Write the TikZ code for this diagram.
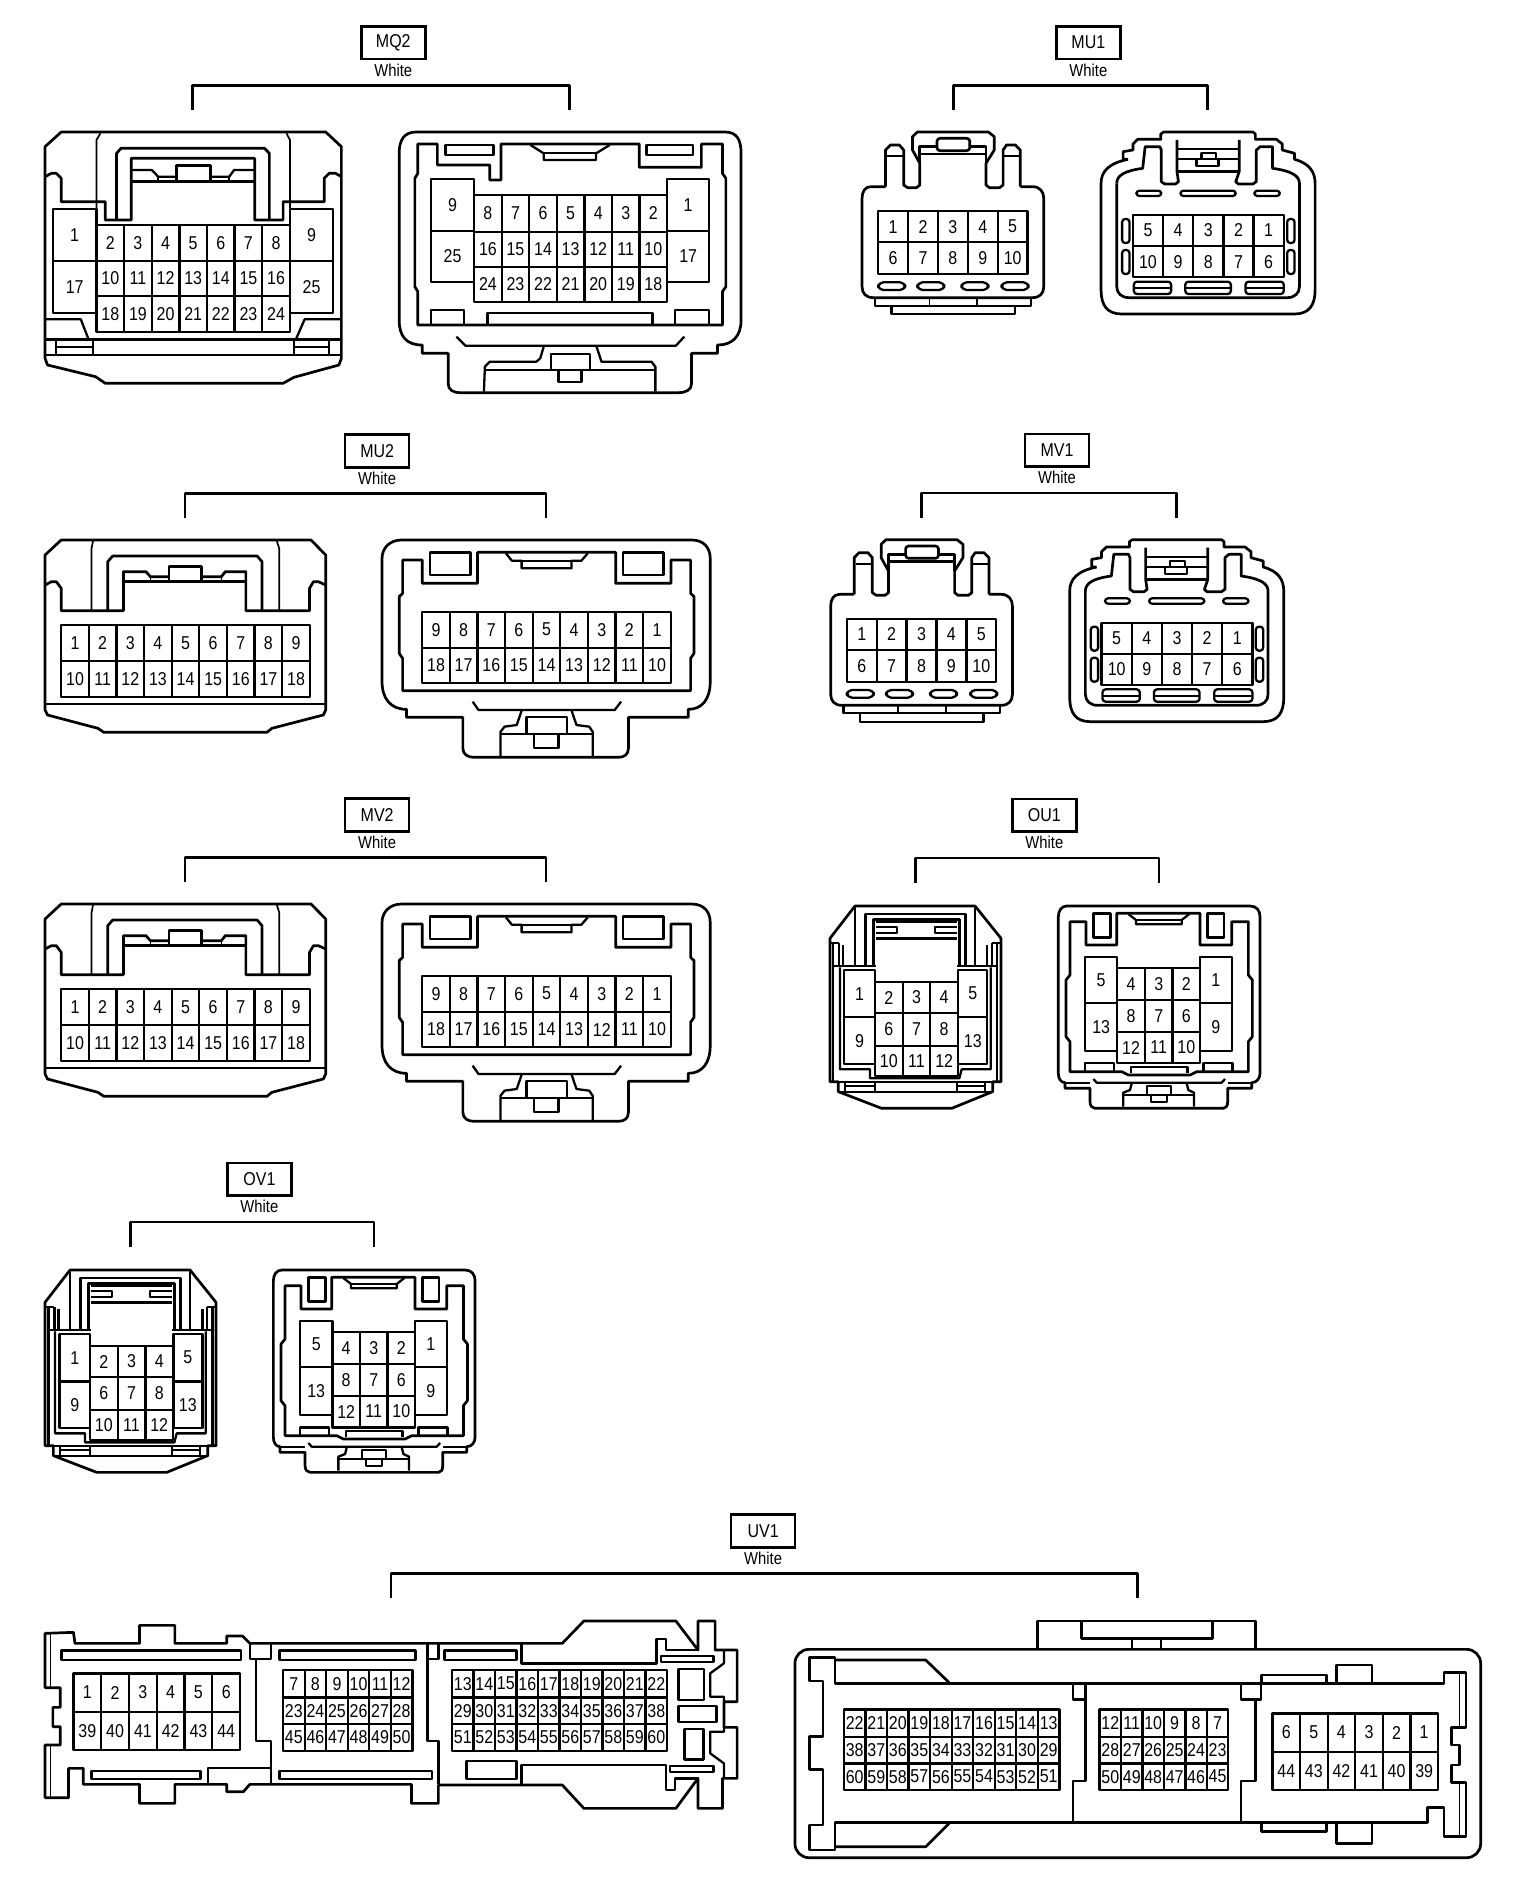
\documentclass[tikz,border=0pt]{standalone}
\usepackage{fontspec}
\setmainfont[FakeStretch=.86]{Liberation Sans}

\tikzset{
	hvy/.style={line width=1.35pt, line join=round},
	mid/.style={line width=1.15pt, line join=round},
	thn/.style={line width=.85pt, line join=round},
	pinlab/.style={font=\fontsize{9.3}{10}\selectfont, inner sep=0pt},
	tagbox/.style={draw, line width=1.3pt, minimum width=32pt, minimum height=16.3pt, inner sep=0pt, font=\fontsize{9.3}{10}\selectfont},
	tagcolor/.style={inner sep=0pt, font=\fontsize{8.6}{10}\selectfont},
}

\newcommand{\pinrow}[6]{
	\foreach \lab [count=\k from 0] in {#6} {
		\draw[mid] ({#2+\k*#4},#3) rectangle ++(#4,#5);
		\node[pinlab] (#1\lab) at ({#2+(\k+.5)*#4},{#3+.5*#5}) {\lab};
	}
}
\newcommand{\tagblock}[5]{
	\node[tagbox] (#1tag) at (#2,#3) {#1};
	\node[tagcolor] (#1col) at (#2,#3+82) {White};
	\coordinate (#1L) at (#4,#3+202);
	\coordinate (#1R) at (#5,#3+202);
	\draw[hvy] (#1L) -- ++(0,-74) -| (#1R);
}

\newcommand{\muonepair}{
	\draw[hvy] (240,560) -- (210,560) .. controls (198,560) and (192,575) .. (192,595) -- (192,860) .. controls (192,880) and (200,893) .. (215,893) -- (540,893) .. controls (555,893) and (563,880) .. (563,860) -- (563,595) .. controls (563,575) and (555,560) .. (540,560) -- (515,560);
	\draw[hvy] (240,560) -- (240,450) -- (250,435) -- (268,435) -- (277,450) -- (277,555) -- (285,563) -- (303,563) -- (310,555) -- (310,490) -- (295,450) -- (295,410) -- (305,396) -- (450,396) -- (462,410) -- (462,450) -- (445,490) -- (445,555) -- (452,563) -- (473,563) -- (480,555) -- (480,450) -- (487,435) -- (505,435) -- (515,450) -- (515,560);
	\draw[thn] (243,468) -- (277,468);
	\draw[thn] (480,468) -- (513,468);
	\draw[hvy] (310,490) -- (310,440) -- (345,440);
	\draw[hvy] (412,440) -- (445,440) -- (445,490);
	\draw[hvy] (310,462) -- (445,462);
	\draw[hvy, rounded corners=1.5pt] (345,415) rectangle (412,452);
	\pinrow{a}{225}{633}{61}{94}{1,2,3,4,5}
	\pinrow{a}{225}{727}{61}{95}{6,7,8,9,10}
	\foreach \sx in {225,305,395,477}
		\draw[mid, rounded corners=2.5pt] (\sx,847) rectangle ++(55,23);
	\draw[mid] (218,893) -- (218,917) -- (537,917) -- (537,893);
	\draw[thn] (330,893) -- (330,917);
	\draw[thn] (427,893) -- (427,917);
	\draw[mid] (252,917) -- (252,942) -- (504,942) -- (504,917);
	\draw[hvy] (735,478) -- (725,478) -- (725,455) -- (745,450) -- (745,432) -- (755,418) -- (802,418) -- (802,402) -- (808,396) -- (990,396) -- (995,402) -- (995,418) -- (1038,418) -- (1050,432) -- (1050,450) -- (1075,460) -- (1075,478) .. controls (1105,490) and (1117,515) .. (1117,550) -- (1117,870) .. controls (1117,915) and (1105,942) .. (1075,942) -- (722,942) .. controls (692,942) and (680,915) .. (680,870) -- (680,550) .. controls (680,515) and (695,490) .. (735,478);
	\draw[hvy] (712,550) .. controls (712,525) and (730,512) .. (765,505) -- (770,440) -- (800,440) -- (803,450) -- (803,545) -- (810,552) -- (832,552) -- (838,545) -- (835,515) -- (835,420);
	\draw[hvy] (962,420) -- (962,515) -- (955,545) -- (960,552) -- (990,552) -- (997,545) -- (997,450) -- (1005,440) -- (1030,440) -- (1030,505) .. controls (1065,512) and (1085,525) .. (1085,550) -- (1085,860) .. controls (1085,880) and (1075,893) .. (1060,893) -- (737,893) .. controls (722,893) and (712,880) .. (712,860) -- (712,550);
	\draw[mid] (835,448) -- (962,448);
	\draw[mid] (835,478) -- (962,478);
	\draw[hvy] (835,515) -- (962,515);
	\draw[mid] (885,478) -- (885,460) -- (915,460) -- (915,478);
	\draw[mid] (875,478) -- (875,498) -- (920,498) -- (920,478);
	\draw[mid, rounded corners=1.5pt] (752,572) rectangle (803,588);
	\draw[mid, rounded corners=1.5pt] (842,572) rectangle (955,588);
	\draw[mid, rounded corners=1.5pt] (993,572) rectangle (1045,588);
	\pinrow{b}{745}{645}{61.6}{93}{5,4,3,2,1}
	\pinrow{b}{745}{738}{61.6}{94}{10,9,8,7,6}
	\foreach \sx in {723,1060}
		\foreach \sy in {657,750}
			\draw[mid, rounded corners=1.5pt] (\sx,\sy) rectangle ++(15,72);
	\foreach \sx/\sw in {747/76,852/93,975/78} {
		\draw[mid, rounded corners=1.5pt] (\sx,845) rectangle ++(\sw,37);
		\draw[mid] (\sx,864) -- ++(\sw,0);
	}
}

\newcommand{\mutwopair}{
	\draw[hvy] (92,405) -- (125,360) -- (635,360) -- (665,405) -- (665,870) -- (660,885) -- (555,925) -- (545,937) -- (212,937) -- (200,925) -- (97,885) -- (92,870) -- cycle;
	\draw[thn] (187,570) -- (187,385) -- (190,362);
	\draw[thn] (570,570) -- (570,385) -- (565,362);
	\draw[hvy] (220,570) -- (220,425) -- (230,408) -- (525,408) -- (535,425) -- (535,570);
	\draw[hvy] (92,495) -- (105,485) -- (115,485) -- (125,505) -- (125,572) -- (252,572) -- (252,455) -- (298,455) -- (307,470) -- (345,470);
	\draw[hvy] (665,495) -- (650,485) -- (640,485) -- (632,505) -- (632,572) -- (502,572) -- (502,455) -- (460,455) -- (452,470) -- (412,470);
	\draw[hvy] (345,440) rectangle (412,485);
	\draw[hvy] (252,485) -- (502,485);
	\draw[thn] (307,470) -- (307,485);
	\draw[thn] (452,470) -- (452,485);
	\pinrow{a}{125}{616}{56.4}{107}{1,2,3,4,5,6,7,8,9}
	\pinrow{a}{125}{723}{56.4}{107}{10,11,12,13,14,15,16,17,18}
	\draw[hvy] (92,852) -- (665,852);
	\draw[hvy] (820,360) -- (1412,360) .. controls (1438,360) and (1450,385) .. (1450,415) -- (1450,785) .. controls (1450,835) and (1435,868) .. (1405,868) -- (1405,892) -- (1283,892) -- (1283,985) .. controls (1283,1003) and (1275,1012) .. (1262,1012) -- (968,1012) .. controls (955,1012) and (945,1003) .. (945,985) -- (945,892) -- (830,892) -- (830,868) .. controls (797,868) and (780,835) .. (780,785) -- (780,415) .. controls (780,385) and (795,360) .. (820,360) -- cycle;
	\draw[hvy] (822,420) -- (862,420) -- (862,490) -- (975,490) -- (975,397) -- (1257,397) -- (1257,490) -- (1370,490) -- (1370,420) -- (1410,420) -- (1410,520) -- (1417,530) -- (1417,700) -- (1410,715) -- (1410,812) -- (822,812) -- (822,715) -- (815,700) -- (815,530) -- (822,520) -- cycle;
	\draw[hvy] (878,397) rectangle (960,465);
	\draw[hvy] (1272,397) rectangle (1355,465);
	\draw[mid] (1033,400) -- (1045,422) -- (1065,422) -- (1065,445) -- (1167,445) -- (1167,422) -- (1187,422) -- (1200,400);
	\draw[mid] (1065,422) -- (1167,422);
	\pinrow{b}{862}{575}{56.4}{108}{9,8,7,6,5,4,3,2,1}
	\pinrow{b}{862}{683}{56.4}{107}{18,17,16,15,14,13,12,11,10}
	\draw[mid] (965,845) -- (977,870) -- (1255,870) -- (1268,845);
	\draw[mid] (1065,872) -- (1055,915) -- (1030,920) -- (1022,935) -- (1022,1010);
	\draw[mid] (1167,872) -- (1177,915) -- (1203,920) -- (1210,935) -- (1210,1010);
	\draw[mid] (1022,942) -- (1210,942);
	\draw[mid] (1075,892) rectangle (1157,942);
	\draw[mid] (1090,942) -- (1090,983) -- (1140,983) -- (1140,942);
}

\newcommand{\ouonepair}{
	\draw[hvy] (90,475) -- (165,378) -- (525,378) -- (603,475) -- (603,905) -- (578,905) -- (578,935) -- (455,985) -- (245,985) -- (115,935) -- (115,905) -- (90,905) -- cycle;
	\draw[mid] (165,378) -- (165,558);
	\draw[mid] (525,378) -- (525,558);
	\draw[hvy] (197,558) -- (197,402) -- (497,402) -- (497,558);
	\draw[hvy] (220,558) -- (220,418) -- (478,418) -- (478,558);
	\draw[hvy] (228,475) -- (470,475);
	\draw[mid] (228,425) -- (470,425);
	\draw[mid] (228,442) -- (290,442) -- (290,460) -- (228,460);
	\draw[mid] (470,442) -- (405,442) -- (405,460) -- (470,460);
	\draw[mid] (100,490) -- (100,905);
	\draw[mid] (118,490) -- (118,558);
	\draw[mid] (130,495) -- (130,558);
	\draw[mid] (575,490) -- (575,558);
	\draw[mid] (562,495) -- (562,558);
	\draw[mid] (592,490) -- (592,905);
	\draw[mid] (92,490) -- (118,490);
	\draw[mid] (575,490) -- (600,490);
	\draw[hvy] (100,558) -- (228,558);
	\draw[hvy] (470,558) -- (592,558);
	\draw[mid] (120,562) -- (120,868) -- (210,868) -- (210,895) -- (225,895) -- (478,895) -- (485,868) -- (572,868) -- (572,562);
	\pinrow{a}{225}{605}{83}{95}{2,3,4}
	\pinrow{a}{225}{700}{83}{97}{6,7,8}
	\pinrow{a}{225}{797}{83}{90}{10,11,12}
	\pinrow{a}{133}{570}{92}{142}{1}
	\pinrow{a}{133}{712}{92}{140}{9}
	\pinrow{a}{475}{570}{87}{142}{5}
	\pinrow{a}{475}{712}{87}{140}{13}
	\draw[mid] (115,905) -- (578,905);
	\draw[mid] (135,905) -- (135,935);
	\draw[mid] (225,905) -- (225,935);
	\draw[mid] (135,918) -- (225,918);
	\draw[mid] (470,905) -- (470,935);
	\draw[mid] (555,905) -- (555,935);
	\draw[mid] (470,918) -- (555,918);
	\draw[mid] (115,935) -- (578,935);
	\draw[hvy] (800,378) -- (1350,378) .. controls (1370,378) and (1380,392) .. (1380,410) -- (1380,880) .. controls (1380,895) and (1370,908) .. (1355,908) -- (1355,925) -- (1283,925) -- (1283,965) .. controls (1283,978) and (1278,985) .. (1270,985) -- (885,985) .. controls (877,985) and (870,978) .. (870,965) -- (870,925) -- (795,925) -- (795,908) .. controls (782,908) and (775,895) .. (775,880) -- (775,410) .. controls (775,392) and (785,378) .. (800,378) -- cycle;
	\draw[mid] (795,908) -- (870,908);
	\draw[mid] (1283,908) -- (1355,908);
	\draw[hvy] (810,425) -- (858,425) -- (858,495) -- (950,495) -- (950,400) -- (1200,400) -- (1200,495) -- (1295,495) -- (1295,425) -- (1345,425) -- (1345,585) -- (1357,600) -- (1357,770) -- (1345,785) -- (1345,875) -- (1190,875) -- (1170,885) -- (985,885) -- (965,875) -- (810,875) -- (810,785) -- (798,770) -- (798,600) -- (810,585) -- cycle;
	\draw[hvy] (880,400) rectangle (932,472);
	\draw[hvy] (1222,400) rectangle (1272,472);
	\draw[mid] (985,402) -- (1008,420) -- (1008,433) -- (1145,433) -- (1145,420) -- (1168,402);
	\draw[mid] (1008,420) -- (1145,420);
	\pinrow{b}{952}{565}{82.7}{95}{4,3,2}
	\pinrow{b}{952}{660}{82.7}{95}{8,7,6}
	\pinrow{b}{952}{755}{82.7}{95}{12,11,10}
	\pinrow{b}{855}{530}{97}{140}{5}
	\pinrow{b}{855}{670}{97}{142}{13}
	\pinrow{b}{1200}{530}{95}{140}{1}
	\pinrow{b}{1200}{670}{95}{142}{9}
	\draw[mid] (855,875) -- (855,850) -- (942,850) -- (942,875);
	\draw[mid] (993,880) -- (993,860) -- (1162,860) -- (1162,880);
	\draw[mid] (1210,875) -- (1210,850) -- (1297,850) -- (1297,875);
	\draw[mid] (880,897) -- (890,908) -- (1265,908) -- (1275,897);
	\draw[mid] (995,910) -- (990,930) -- (970,938) -- (970,980);
	\draw[mid] (1160,910) -- (1165,930) -- (1182,938) -- (1182,980);
	\draw[mid] (970,945) -- (1182,945);
	\draw[mid] (1040,945) -- (1040,918) -- (1112,918) -- (1112,945);
	\draw[mid] (1052,945) -- (1052,965) -- (1100,965) -- (1100,945);
}

\begin{document}
\begin{tikzpicture}[x=.2449pt, y=-.16667pt]
	\useasboundingbox (0,0) rectangle (3136,5694);

	\tagblock{MQ2}{803}{128}{393}{1163}
	\begin{scope}[name prefix=mq2-]
		\draw[hvy] (92,440) -- (125,396) -- (665,396) -- (697,440) -- (697,1075) -- (692,1095) -- (600,1132) -- (578,1150) -- (215,1150) -- (195,1130) -- (97,1095) -- (92,1075) -- cycle;
		\draw[thn] (197,660) -- (197,420) -- (205,400);
		\draw[thn] (592,625) -- (592,420) -- (585,400);
		\draw[hvy] (238,660) -- (238,460) -- (247,445) -- (540,445) -- (550,460) -- (550,660);
		\draw[hvy] (92,530) -- (105,520) -- (115,520) -- (125,535) -- (125,605) -- (215,605) -- (215,660) -- (268,660) -- (268,475) -- (520,475) -- (520,660) -- (578,660) -- (578,605) -- (662,605) -- (662,535) -- (672,520) -- (685,520) -- (697,530);
		\draw[mid] (268,510) -- (310,510) -- (323,530) -- (360,530);
		\draw[mid] (430,530) -- (468,530) -- (478,510) -- (520,510);
		\draw[hvy] (360,497) rectangle (430,545);
		\draw[hvy] (268,545) -- (520,545);
		\draw[thn] (323,530) -- (323,545);
		\draw[thn] (468,530) -- (468,545);
		\pinrow{a}{197}{676}{56.4}{106}{2,3,4,5,6,7,8}
		\pinrow{a}{197}{782}{56.4}{106}{10,11,12,13,14,15,16}
		\pinrow{a}{197}{888}{56.4}{107}{18,19,20,21,22,23,24}
		\pinrow{a}{108}{628}{89}{154}{1}
		\pinrow{a}{108}{782}{89}{156}{17}
		\pinrow{a}{592}{628}{88}{154}{9}
		\pinrow{a}{592}{782}{88}{156}{25}
		\draw[mid] (92,958) -- (165,958) -- (180,1015);
		\draw[mid] (697,958) -- (622,958) -- (605,1015);
		\draw[hvy] (92,1018) -- (697,1018);
		\draw[hvy] (92,1065) -- (697,1065);
		\draw[mid] (115,1018) -- (115,1065);
		\draw[mid] (190,1018) -- (190,1065);
		\draw[mid] (115,1040) -- (190,1040);
		\draw[mid] (600,1018) -- (600,1065);
		\draw[mid] (672,1018) -- (672,1065);
		\draw[mid] (600,1040) -- (672,1040);

		\draw[hvy] (850,396) -- (1480,396) .. controls (1505,396) and (1513,420) .. (1513,460) -- (1513,960) .. controls (1513,1010) and (1495,1035) .. (1465,1035) -- (1465,1060) -- (1412,1060) -- (1412,1150) .. controls (1412,1170) and (1400,1178) .. (1385,1178) -- (940,1178) .. controls (925,1178) and (915,1170) .. (915,1150) -- (915,1060) -- (862,1060) -- (862,1035) .. controls (830,1035) and (815,1010) .. (815,960) -- (815,460) .. controls (815,420) and (825,396) .. (850,396) -- cycle;
		\draw[hvy] (853,432) -- (893,432) -- (893,495) -- (1000,495) -- (1000,540) -- (1023,540) -- (1023,432) -- (1305,432) -- (1305,502) -- (1432,502) -- (1432,432) -- (1475,432) -- (1475,520) -- (1482,535) -- (1482,860) -- (1475,875) -- (1475,975) -- (853,975) -- (853,875) -- (847,860) -- (847,535) -- (853,520) -- cycle;
		\draw[hvy] (910,435) rectangle (1007,465);
		\draw[hvy] (1320,435) rectangle (1415,465);
		\draw[mid] (1083,435) -- (1110,460) -- (1110,480) -- (1217,480) -- (1217,460) -- (1245,435);
		\draw[mid] (1110,460) -- (1217,460);
		\pinrow{b}{968}{586}{56.3}{109}{8,7,6,5,4,3,2}
		\pinrow{b}{968}{695}{56.3}{105}{16,15,14,13,12,11,10}
		\pinrow{b}{968}{800}{56.3}{105}{24,23,22,21,20,19,18}
		\pinrow{b}{880}{538}{88}{154}{9}
		\pinrow{b}{880}{692}{88}{153}{25}
		\pinrow{b}{1362}{538}{86}{154}{1}
		\pinrow{b}{1362}{692}{86}{153}{17}
		\draw[mid] (880,975) -- (880,930) -- (948,930) -- (948,975);
		\draw[mid] (995,975) -- (995,938) -- (1332,938) -- (1332,975);
		\draw[mid] (1378,975) -- (1378,930) -- (1448,930) -- (1448,975);
		\draw[mid] (932,1010) -- (950,1037) -- (1380,1037) -- (1397,1010);
		\draw[mid] (1110,1040) -- (1103,1075) -- (1095,1085) -- (1000,1085) -- (990,1100) -- (988,1175);
		\draw[mid] (1218,1040) -- (1228,1085) -- (1330,1085) -- (1338,1100) -- (1338,1175);
		\draw[mid] (990,1110) -- (1338,1110);
		\draw[mid] (1125,1062) rectangle (1205,1110);
		\draw[mid] (1140,1110) -- (1140,1145) -- (1187,1145) -- (1187,1110);
	\end{scope}

	\begin{scope}[shift={(1568,0)}, name prefix=mu1-]
		\tagblock{MU1}{654}{128}{378}{898}
		\muonepair
	\end{scope}
	\begin{scope}[shift={(1504,1223)}, name prefix=mv1-]
		\tagblock{MV1}{654}{128}{378}{898}
		\muonepair
	\end{scope}

	\begin{scope}[shift={(0,1260)}, name prefix=mu2-]
		\tagblock{MU2}{770}{93}{378}{1115}
		\mutwopair
	\end{scope}
	\begin{scope}[shift={(0,2352)}, name prefix=mv2-]
		\tagblock{MV2}{770}{93}{378}{1115}
		\mutwopair
	\end{scope}

	\begin{scope}[shift={(1633.3,2340)}, xscale=.6806, name prefix=ou1-]
		\tagblock{OU1}{733}{106}{347}{1077}
		\ouonepair
	\end{scope}
	\begin{scope}[shift={(30.7,3432)}, xscale=.6806, name prefix=ov1-]
		\tagblock{OV1}{733}{106}{347}{1077}
		\ouonepair
	\end{scope}

	\begin{scope}[shift={(0,4500)}, name prefix=uv1-]
		\tagblock{UV1}{1558}{93}{798}{2323}
		\draw[hvy] (92,400) -- (150,397) -- (153,430) -- (285,430) -- (285,376) -- (357,376) -- (357,430) -- (463,430) -- (463,408) -- (495,408) -- (510,430) -- (1148,430) -- (1192,363) -- (1380,363) -- (1425,450) -- (1425,363) -- (1460,363) -- (1460,450) -- (1505,450) -- (1505,605) -- (1478,605) -- (1478,682) -- (1505,682) -- (1505,835) -- (1475,835) -- (1475,925) -- (1425,925) -- (1425,835) -- (1380,925) -- (1192,925) -- (1148,855) -- (895,855) -- (895,910) -- (840,910) -- (840,853) -- (510,853) -- (497,875) -- (463,875) -- (463,853) -- (357,853) -- (357,910) -- (285,910) -- (285,853) -- (170,853) -- (170,805) -- (140,805) -- (140,893) -- (92,893) -- (92,735) -- (123,735) -- (123,680) -- (108,680) -- (108,622) -- (123,622) -- (123,563) -- (92,563) -- cycle;
		\draw[thn] (103,403) -- (103,563);
		\draw[thn] (103,735) -- (103,890);
		\draw[hvy] (125,452) rectangle (492,480);
		\draw[hvy] (570,452) rectangle (848,480);
		\draw[hvy] (908,452) rectangle (1055,480);
		\draw[hvy] (187,813) rectangle (410,837);
		\draw[hvy] (570,813) rectangle (882,837);
		\draw[mid] (510,430) -- (510,477) -- (553,477) -- (553,430);
		\draw[mid] (523,477) -- (523,722) -- (553,722) -- (553,853);
		\draw[mid] (873,430) -- (873,477) -- (895,477) -- (895,430);
		\draw[mid] (873,477) -- (873,722) -- (895,722) -- (895,853);
		\draw[mid] (425,853) -- (425,803) -- (553,803);
		\draw[hvy] (1065,433) -- (1065,490) -- (1340,490) -- (1340,417) -- (1360,417) -- (1360,450) -- (1425,450);
		\draw[hvy] (1065,853) -- (1065,795) -- (1360,795) -- (1360,870) -- (1378,870) -- (1378,835) -- (1425,835);
		\draw[hvy] (952,783) rectangle (1055,837);
		\draw[mid] (1350,468) rectangle (1457,486);
		\draw[mid] (1368,798) rectangle (1457,816);
		\draw[mid] (1385,507) rectangle (1437,600);
		\draw[mid] (1385,617) rectangle (1463,665);
		\draw[hvy] (1397,687) rectangle (1437,778);
		\draw[mid] (1478,450) -- (1478,490) -- (1450,520) -- (1450,590) -- (1478,590) -- (1478,605);
		\draw[mid] (1478,835) -- (1478,790) -- (1450,760) -- (1450,695) -- (1478,695) -- (1478,682);
		\pinrow{a}{150}{520}{56.7}{115}{1,2,3,4,5,6}
		\pinrow{a}{150}{635}{56.7}{115}{39,40,41,42,43,44}
		\pinrow{a}{578}{510}{44}{82}{7,8,9,10,11,12}
		\pinrow{a}{578}{592}{44}{80}{23,24,25,26,27,28}
		\pinrow{a}{578}{672}{44}{81}{45,46,47,48,49,50}
		\pinrow{a}{923}{510}{43.9}{82}{13,14,15,16,17,18,19,20,21,22}
		\pinrow{a}{923}{592}{43.9}{80}{29,30,31,32,33,34,35,36,37,38}
		\pinrow{a}{923}{672}{43.9}{81}{51,52,53,54,55,56,57,58,59,60}
	\end{scope}

	\begin{scope}[shift={(1568,4500)}, name prefix=uv1-]
		\draw[hvy, rounded corners=7pt] (55,448) rectangle (1455,1073);
		\draw[hvy] (550,448) -- (550,363) -- (995,363) -- (995,448);
		\draw[hvy] (640,363) -- (640,415) -- (907,415) -- (907,363);
		\draw[mid] (743,415) -- (743,448);
		\draw[mid] (802,415) -- (802,448);
		\draw[hvy] (85,472) -- (137,472) -- (137,550) -- (1380,550) -- (1380,517) -- (1425,517) -- (1425,682) -- (1395,682) -- (1395,735) -- (1412,735) -- (1412,795) -- (1395,795) -- (1395,848) -- (1425,848) -- (1425,1010) -- (1380,1010) -- (1380,922) -- (1347,922) -- (1347,968) -- (137,968) -- (137,1050) -- (85,1050) -- (85,975) -- (112,975) -- (112,808) -- (85,808) -- (85,710) -- (112,710) -- (112,543) -- (85,543) -- cycle;
		\draw[hvy] (137,480) -- (322,480) -- (370,548);
		\draw[hvy] (137,1040) -- (322,1040) -- (370,970);
		\draw[thn] (1412,517) -- (1412,682);
		\draw[thn] (1412,848) -- (1412,1010);
		\draw[hvy] (1160,548) -- (1160,495) -- (1233,495) -- (1233,548);
		\draw[hvy] (1160,968) -- (1160,1030) -- (1233,1030) -- (1233,968);
		\draw[hvy] (1007,545) -- (1007,525) -- (1140,525) -- (1140,548);
		\draw[hvy] (1007,968) -- (1007,995) -- (1140,995) -- (1140,968);
		\draw[mid] (622,550) -- (622,598) -- (648,598) -- (648,550);
		\draw[mid] (648,598) -- (648,843) -- (622,843) -- (622,968);
		\draw[mid] (965,550) -- (965,598) -- (1007,598) -- (1007,550);
		\draw[mid] (995,598) -- (995,843) -- (965,843) -- (965,968);
		\pinrow{b}{155}{628}{44}{82}{22,21,20,19,18,17,16,15,14,13}
		\pinrow{b}{155}{710}{44}{80}{38,37,36,35,34,33,32,31,30,29}
		\pinrow{b}{155}{790}{44}{80}{60,59,58,57,56,55,54,53,52,51}
		\pinrow{b}{677}{628}{43.8}{82}{12,11,10,9,8,7}
		\pinrow{b}{677}{710}{43.8}{80}{28,27,26,25,24,23}
		\pinrow{b}{677}{790}{43.8}{80}{50,49,48,47,46,45}
		\pinrow{b}{1030}{640}{56.3}{115}{6,5,4,3,2,1}
		\pinrow{b}{1030}{755}{56.3}{115}{44,43,42,41,40,39}
	\end{scope}
\end{tikzpicture}
\end{document}
